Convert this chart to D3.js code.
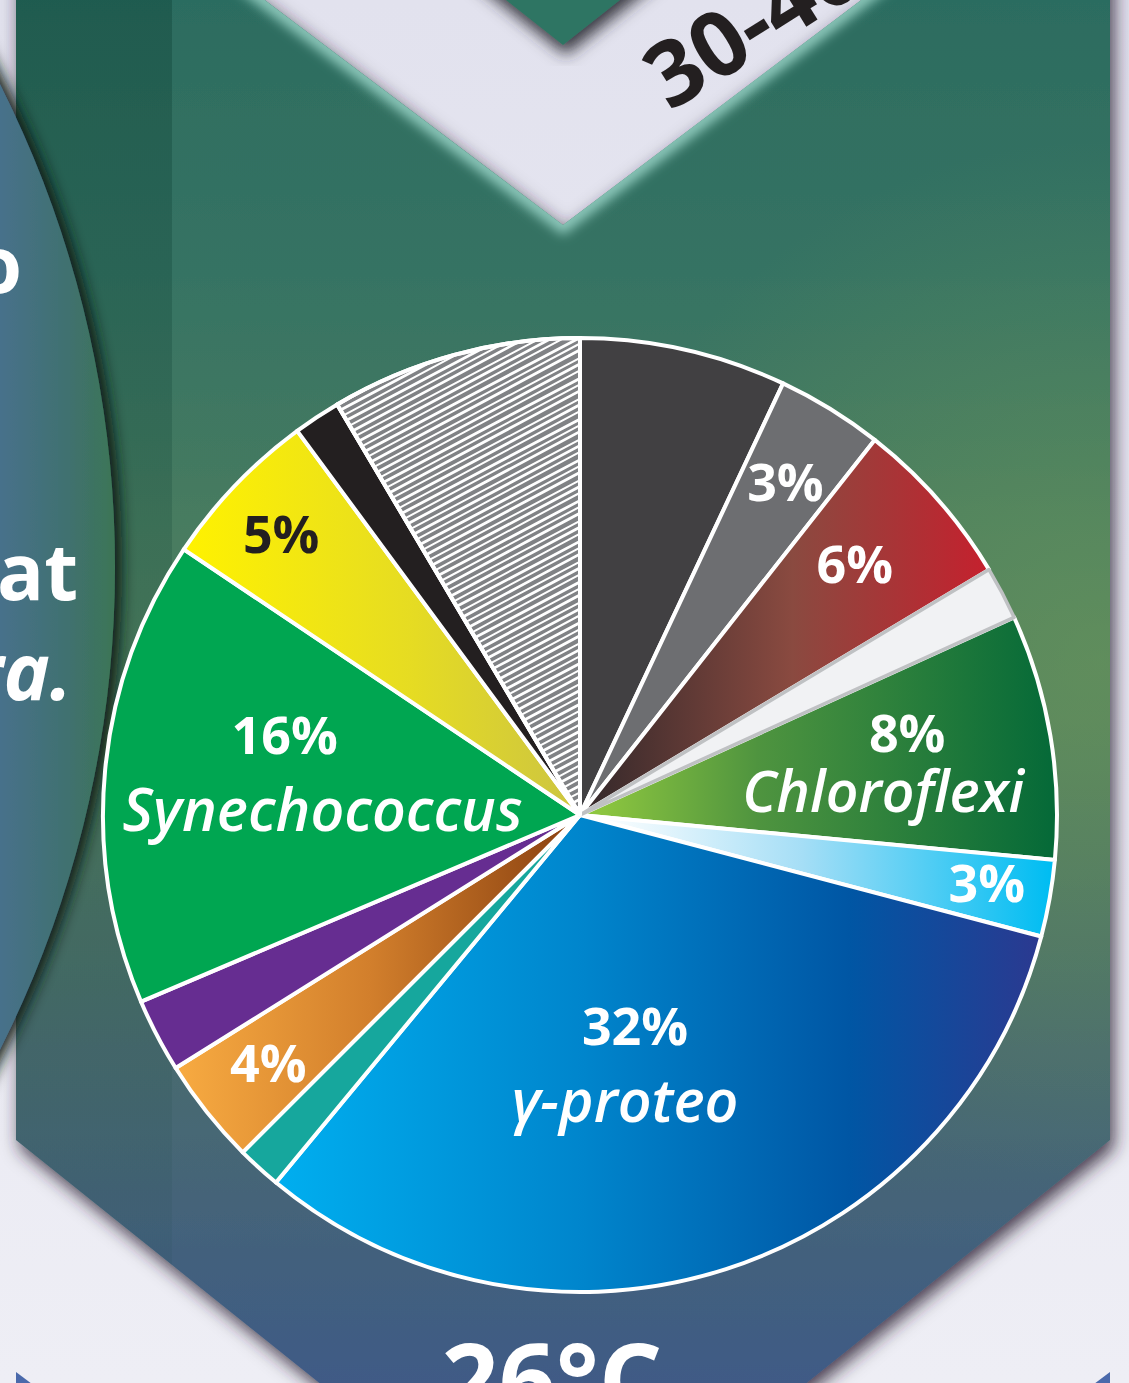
<!DOCTYPE html>
<html><head><meta charset="utf-8">
<script src="https://cdn.jsdelivr.net/npm/d3@7"></script>
<style>html,body{margin:0;padding:0;background:#e5e5ef;} svg{display:block;}</style>
</head><body>
<script>
// ---------- DATA ----------
const sliceIds = ["s01","s02","s03","s04","Chloroflexi","s06","gamma-proteo","s08","s09","s10","Synechococcus","s12","s13","s14"];
const values   = [7, 3.6, 5.8, 1.8, 8.3, 2.6, 31.9, 1.5, 3.6, 2.5, 15.8, 5.5, 1.6, 8.5];
const pctLabels  = ["", "3%", "6%", "", "8%", "3%", "32%", "", "4%", "", "16%", "5%", "", ""];
const nameLabels = ["", "", "", "", "Chloroflexi", "", "γ-proteo", "", "", "", "Synechococcus", "", "", ""];
const sideTexts = ["to", "that", "ra."];
const headerText = "30-40 m";
const footerText = "26°C";

// ---------- STYLE ----------
const sliceFills = ["#414042","#6d6e71","url(#gRed)","#f1f2f4","url(#gChloro)","url(#gLBlue)","url(#gBlue)",
                    "#16a79d","url(#gOrange)","#662d91","#00a651","url(#gYellow)","#231f20","#808285"];
const sliceStrokes = ["#fff","#fff","#fff","#bfc1c3","#fff","#fff","#fff","#fff","#fff","#fff","#fff","#fff","#fff","#fff"];
const labelColors = ["#fff","#fff","#fff","#fff","#fff","#fff","#fff","#fff","#fff","#fff","#fff","#231f20","#fff","#fff"];
const scribbleIndex = 13;
// label layout: radius fraction, angular shift (deg), offsets for percent / name lines
const labelLayout = {
  1:{k:0.82, shift:0,   p:[0,0]},
  2:{k:0.78, shift:-1,  p:[0,0]},
  4:{k:0.67, shift:0,   p:[12,-29], n:[-12,29], nSize:57},
  5:{k:0.865,shift:-0.5,p:[0,0]},
  6:{k:0.53, shift:6.4, p:[5,-37],  n:[-5,38],  nSize:59},
  8:{k:0.835,shift:0,   p:[0,0]},
  10:{k:0.574,shift:3.6,p:[-25,-37],n:[13,38],  nSize:59},
  11:{k:0.86,shift:-0.5,p:[0,0]}
};
const FONT = "'Open Sans', 'Noto Sans', sans-serif";

const W = 1129, H = 1383;
const cx = 580, cy = 815, R = 477;

const svg = d3.select("body").append("svg").attr("width", W).attr("height", H);
const defs = svg.append("defs");

function linGrad(id, x1, y1, x2, y2, stops) {
  const g = defs.append("linearGradient").attr("id", id).attr("gradientUnits", "userSpaceOnUse")
    .attr("x1", x1).attr("y1", y1).attr("x2", x2).attr("y2", y2);
  stops.forEach(s => g.append("stop").attr("offset", s[0]).attr("stop-color", s[1]).attr("stop-opacity", s[2] == null ? 1 : s[2]));
  return g;
}
// pie gradients (coordinates relative to the pie centre)
linGrad("gRed", 20, 0, 405, 0, [[0,"#3a2b2c"],[0.5,"#8a4a40"],[1,"#c4212e"]]);
linGrad("gChloro", 20, 0, 470, 0, [[0,"#8dc63f"],[0.35,"#4f943f"],[1,"#066a38"]]);
linGrad("gLBlue", 20, 0, 470, 0, [[0,"#ffffff"],[0.45,"#a5def6"],[1,"#00bdf2"]]);
linGrad("gBlue", -300, 0, 460, 0, [[0,"#00aeef"],[0.4,"#0085cc"],[0.75,"#0056a4"],[1,"#2b3990"]]);
linGrad("gOrange", -400, 0, -20, 0, [[0,"#f7aa41"],[0.5,"#d27f2c"],[1,"#8f4512"]]);
linGrad("gYellow", -395, 0, -20, 0, [[0,"#fff200"],[0.6,"#e6dc22"],[1,"#cfc73e"]]);

// background gradients
linGrad("gBg", 0, 0, 0, H, [[0,"#e2e2ee"],[1,"#eeeef5"]]);
linGrad("gPanel", 0, 0, 0, H, [[0,"#2c6c60"],[0.2,"#367363"],[0.42,"#4b7d60"],[0.52,"#517e5e"],[0.68,"#4b7068"],[0.85,"#456577"],[1,"#3f5a86"]]);
linGrad("gBand", 0, 0, 0, H, [[0,"#06382c",0.32],[0.5,"#06382c",0.15],[1,"#06382c",0.05]]);
linGrad("gCircle", 0, 0, 115, 0, [[0,"#47718b"],[0.6,"#40716f"],[1,"#3c7556"]]);
const rg = defs.append("radialGradient").attr("id", "gGreenGlow").attr("gradientUnits", "userSpaceOnUse")
  .attr("cx", 1100).attr("cy", 660).attr("r", 520);
rg.append("stop").attr("offset", 0).attr("stop-color", "#6e9a5a").attr("stop-opacity", 0.55);
rg.append("stop").attr("offset", 1).attr("stop-color", "#6e9a5a").attr("stop-opacity", 0);

function shadow(id, dx, dy, sd, col, op) {
  const f = defs.append("filter").attr("id", id).attr("x", "-20%").attr("y", "-20%").attr("width", "140%").attr("height", "140%");
  f.append("feDropShadow").attr("dx", dx).attr("dy", dy).attr("stdDeviation", sd).attr("flood-color", col).attr("flood-opacity", op);
}
shadow("shPanel", 4, 8, 9, "#2a2330", 0.85);
shadow("shTop", 3, 10, 8, "#2b2a33", 0.9);
shadow("shCircle", 7, 0, 7, "#0d1f18", 0.95);
defs.append("filter").attr("id", "blur6").append("feGaussianBlur").attr("stdDeviation", 6);

// ---------- BACKGROUND ----------
svg.append("rect").attr("width", W).attr("height", H).attr("fill", "url(#gBg)");

// previous panel tip at the top
svg.append("path").attr("d", "M430,-60 L563,45 L696,-60 Z").attr("fill", "#2f7464").attr("filter", "url(#shTop)");

// header text (rotated)
svg.append("text").attr("transform", "translate(670,112) rotate(-32)")
  .attr("font-family", FONT).attr("font-weight", 700).attr("font-size", 90).attr("fill", "#231f20")
  .text(headerText);

// main chevron panel
const panelD = "M16,-30 L225,-30 L563,225 L901,-30 L1110,-30 L1110,1140 L563,1578 L16,1140 Z";
defs.append("clipPath").attr("id", "clipPanel").append("path").attr("d", panelD);
svg.append("path").attr("d", panelD).attr("fill", "url(#gPanel)").attr("filter", "url(#shPanel)");
const pg = svg.append("g").attr("clip-path", "url(#clipPanel)");
pg.append("rect").attr("width", W).attr("height", H).attr("fill", "url(#gGreenGlow)");
pg.append("rect").attr("x", 16).attr("y", 0).attr("width", 156).attr("height", H).attr("fill", "url(#gBand)");
pg.append("path").attr("d", "M225,-30 L563,225 L901,-30").attr("fill", "none")
  .attr("stroke", "#8fcabd").attr("stroke-width", 16).attr("filter", "url(#blur6)");

// next panel tips at the bottom corners
svg.append("path").attr("d", "M16,1372 L44,1393 L16,1393 Z").attr("fill", "#4a69ab");
svg.append("path").attr("d", "M1110,1372 L1082,1393 L1110,1393 Z").attr("fill", "#4a69ab");

// footer text
svg.append("text").attr("x", 552).attr("y", 1416).attr("text-anchor", "middle")
  .attr("font-family", FONT).attr("font-weight", 700).attr("font-size", 100).attr("fill", "#fff").text(footerText);

// left circle with clipped text
const circ = {x: -955, y: 567, r: 1070};
defs.append("clipPath").attr("id", "clipCircle").append("circle").attr("cx", circ.x).attr("cy", circ.y).attr("r", circ.r);
svg.append("circle").attr("cx", circ.x).attr("cy", circ.y).attr("r", circ.r).attr("fill", "url(#gCircle)").attr("filter", "url(#shCircle)");
const cg = svg.append("g").attr("clip-path", "url(#clipCircle)")
  .attr("font-family", FONT).attr("font-weight", 700).attr("fill", "#fff").attr("font-size", 78).attr("text-anchor", "end");
cg.append("text").attr("x", 22).attr("y", 293).text(sideTexts[0]);
cg.append("text").attr("x", 78).attr("y", 600).text(sideTexts[1]);
cg.append("text").attr("x", 72).attr("y", 700).attr("font-style", "italic").text(sideTexts[2]);

// ---------- PIE ----------
const pie = d3.pie().sort(null).value(d => d).startAngle(0).endAngle(2 * Math.PI);
const arcs = pie(values);
const arc = d3.arc().innerRadius(0).outerRadius(R);
const g = svg.append("g").attr("transform", `translate(${cx},${cy})`);

const order = d3.range(values.length).filter(i => i !== 3).concat([3]);
g.selectAll("path.slice").data(order.map(i => arcs[i])).join("path")
  .attr("class", "slice")
  .attr("d", arc)
  .attr("fill", d => sliceFills[d.index])
  .attr("stroke", d => sliceStrokes[d.index])
  .attr("stroke-width", d => d.index === 3 ? 3.5 : 4)
  .attr("stroke-linejoin", "round");

// scribble texture for the hatched slice (clipped to that slice)
defs.append("clipPath").attr("id", "clipScribble").append("path").attr("d", arc(arcs[scribbleIndex]));
const sg = g.append("g").attr("clip-path", "url(#clipScribble)");
const th = 28 * Math.PI / 180, ux = Math.cos(th), uy = -Math.sin(th), nx = Math.sin(th), ny = Math.cos(th);
d3.range(-500, 10, 6).forEach((s, j) => {
  const c0 = [nx * s, ny * s], L = 420, w = (j % 3 === 0 ? 2.6 : (j % 3 === 1 ? -1.8 : 1.2));
  const p0 = [c0[0] - ux * L, c0[1] - uy * L], p1 = [c0[0] + ux * L, c0[1] + uy * L];
  const q0 = [c0[0] - ux * L / 3 + nx * w, c0[1] - uy * L / 3 + ny * w];
  const q1 = [c0[0] + ux * L / 3 - nx * w, c0[1] + uy * L / 3 - ny * w];
  sg.append("path").attr("d", `M${p0}C${q0} ${q1} ${p1}`).attr("fill", "none")
    .attr("stroke", "#fff").attr("stroke-width", j % 2 ? 2.8 : 2.0);
});
g.append("path").attr("d", arc(arcs[scribbleIndex])).attr("fill", "none").attr("stroke", "#fff").attr("stroke-width", 4)
  .attr("stroke-linejoin", "round");

// labels
const deg = Math.PI / 180;
Object.keys(labelLayout).forEach(key => {
  const i = +key, L = labelLayout[i], a = arcs[i];
  const la = d3.arc().innerRadius(R * L.k).outerRadius(R * L.k);
  const c = la.centroid({startAngle: a.startAngle + L.shift * deg, endAngle: a.endAngle + L.shift * deg});
  g.append("text").attr("x", c[0] + L.p[0]).attr("y", c[1] + L.p[1]).attr("dy", "0.36em")
    .attr("text-anchor", "middle").attr("font-family", FONT).attr("font-weight", 700)
    .attr("font-size", 52).attr("fill", labelColors[i]).text(pctLabels[i]);
  if (L.n && nameLabels[i]) {
    g.append("text").attr("x", c[0] + L.n[0]).attr("y", c[1] + L.n[1]).attr("dy", "0.36em")
      .attr("text-anchor", "middle").attr("font-family", FONT).attr("font-weight", 600).attr("font-style", "italic")
      .attr("font-size", L.nSize).attr("fill", "#fff").text(nameLabels[i]);
  }
});
</script>
</body></html>
